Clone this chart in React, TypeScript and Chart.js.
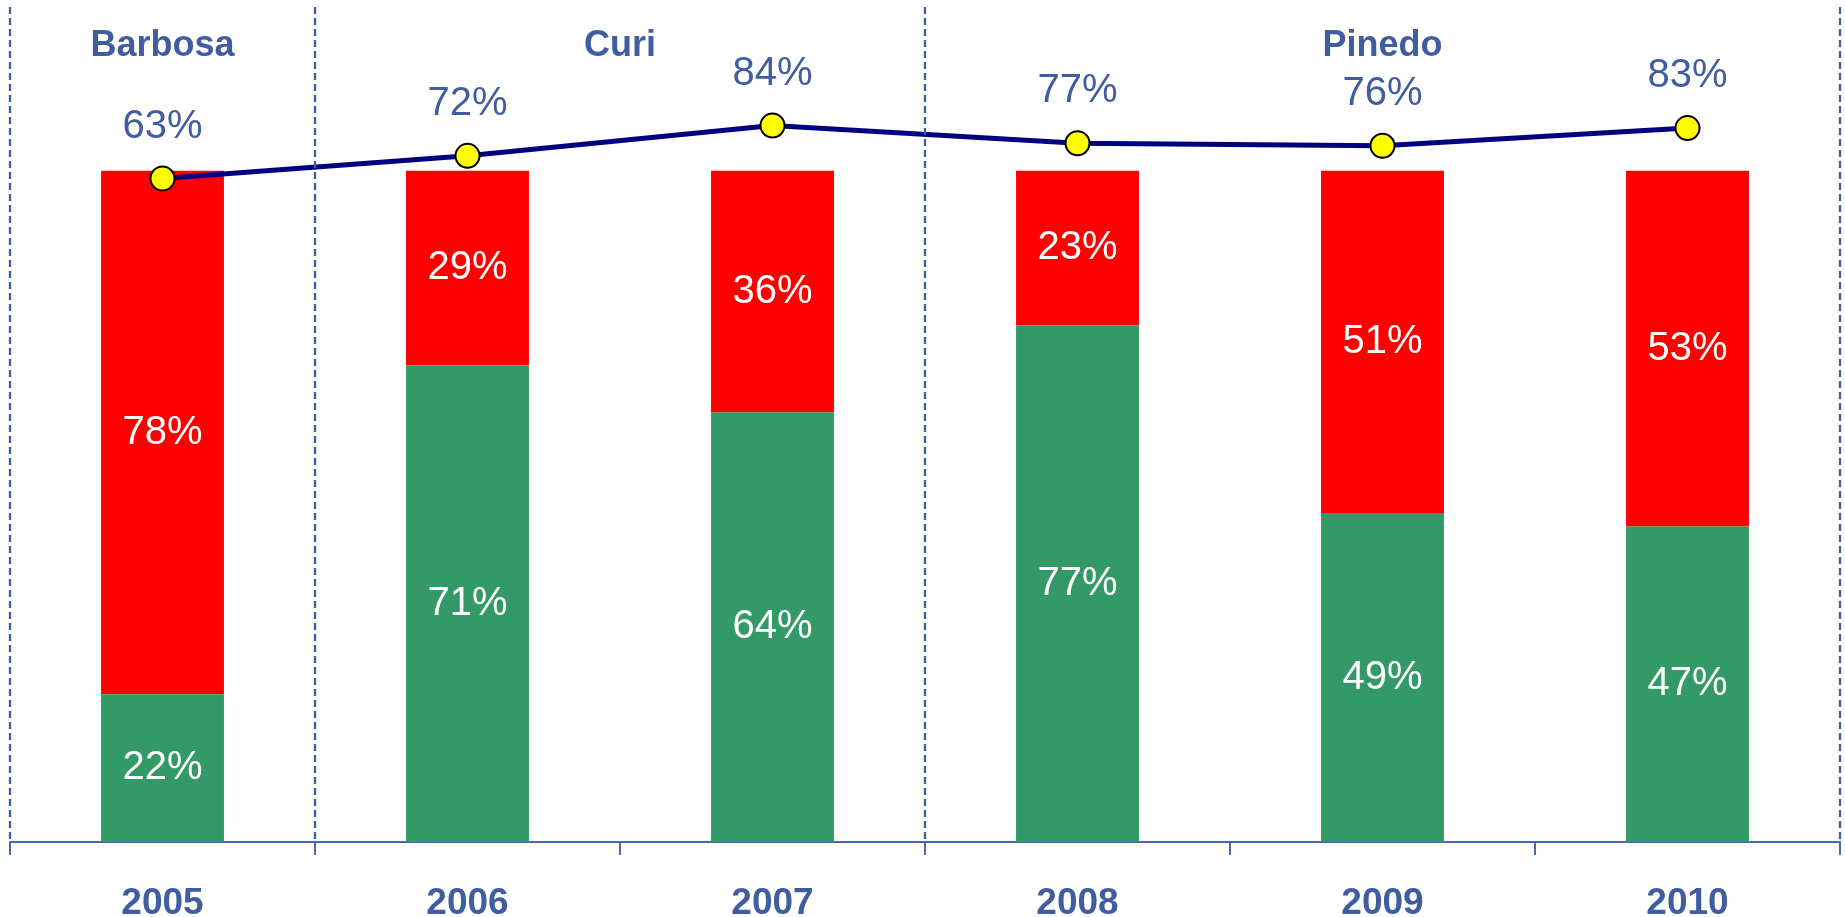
import React, { useEffect, useRef } from "react";
import { Chart, registerables } from "chart.js";

Chart.register(...registerables);

const years = ["2005", "2006", "2007", "2008", "2009", "2010"];
const greenValues = [22, 71, 64, 77, 49, 47];
const redValues = [78, 29, 36, 23, 51, 53];
const lineValues = [63, 72, 84, 77, 76, 83];
const groupLabels = ["Barbosa", "Curi", "Pinedo"];
const groupStarts = [0, 1, 3];
const groupEnds = [0, 2, 5];

const BLUE = "#405D9F";
const FONT = "'Liberation Sans', Arial, sans-serif";

const labelsPlugin = {
  id: "customLabels",
  afterDatasetsDraw(chart: any) {
    const ctx = chart.ctx;
    const area = chart.chartArea;
    const xs = chart.scales.x;
    ctx.save();
    // bar labels
    [0, 1].forEach((di) => {
      const meta = chart.getDatasetMeta(di);
      const vals = chart.data.datasets[di].data;
      meta.data.forEach((el: any, i: number) => {
        const props = el.getProps(["x", "y", "base"], true);
        const cy = (props.y + props.base) / 2;
        ctx.fillStyle = "#FFFFFF";
        ctx.font = `40px ${FONT}`;
        ctx.textAlign = "center";
        ctx.textBaseline = "middle";
        ctx.fillText(vals[i] + "%", props.x, cy);
      });
    });
    // line labels
    const lmeta = chart.getDatasetMeta(2);
    const lvals = chart.data.datasets[2].data;
    lmeta.data.forEach((el: any, i: number) => {
      ctx.fillStyle = BLUE;
      ctx.font = `40px ${FONT}`;
      ctx.textAlign = "center";
      ctx.textBaseline = "middle";
      ctx.fillText(lvals[i] + "%", el.x, el.y - 52);
    });
    // group separators & labels
    const half = (xs.getPixelForValue(1) - xs.getPixelForValue(0)) / 2;
    const bounds = new Set<number>();
    groupStarts.forEach((s, gi) => {
      const left = xs.getPixelForValue(s) - half;
      const right = xs.getPixelForValue(groupEnds[gi]) + half;
      bounds.add(Math.round(left));
      bounds.add(Math.round(right));
      ctx.fillStyle = BLUE;
      ctx.font = `bold 36px ${FONT}`;
      ctx.textAlign = "center";
      ctx.textBaseline = "middle";
      ctx.fillText(groupLabels[gi], (left + right) / 2, area.top + 39);
    });
    ctx.strokeStyle = BLUE;
    ctx.lineWidth = 2.3;
    ctx.setLineDash([7, 4]);
    bounds.forEach((bx) => {
      ctx.beginPath();
      ctx.moveTo(bx, area.top);
      ctx.lineTo(bx, area.bottom);
      ctx.stroke();
    });
    ctx.restore();
  },
};

export default function App() {
  const ref = useRef<HTMLCanvasElement>(null);
  useEffect(() => {
    document.body.style.margin = "0";
    const chart = new Chart(ref.current!, {
      type: "bar",
      data: {
        labels: years,
        datasets: [
          {
            type: "bar",
            label: "green",
            data: greenValues,
            backgroundColor: "#339966",
            stack: "s",
            order: 1,
            yAxisID: "y",
            categoryPercentage: 1,
            barPercentage: 0.403,
          },
          {
            type: "bar",
            label: "red",
            data: redValues,
            backgroundColor: "#FF0000",
            stack: "s",
            order: 2,
            yAxisID: "y",
            categoryPercentage: 1,
            barPercentage: 0.403,
          },
          {
            type: "line",
            label: "line",
            data: lineValues,
            borderColor: "#000080",
            borderWidth: 5,
            pointBackgroundColor: "#FFFF00",
            pointBorderColor: "#000000",
            pointBorderWidth: 2,
            pointRadius: 12,
            yAxisID: "y2",
            order: 0,
            tension: 0,
          } as any,
        ],
      },
      options: {
        animation: false,
        responsive: false,
        maintainAspectRatio: false,
        layout: { autoPadding: false, padding: { top: 7, left: 10, right: 5, bottom: 0 } },
        plugins: { legend: { display: false }, tooltip: { enabled: false } },
        scales: {
          x: {
            stacked: true,
            offset: true,
            afterFit: (scale: any) => {
              scale.height = 75;
            },
            grid: {
              display: true,
              offset: true,
              drawOnChartArea: false,
              drawTicks: true,
              tickLength: 13,
              color: "#4A68AC",
              lineWidth: 2,
            },
            border: { display: true, color: "#4A68AC", width: 2 },
            ticks: {
              color: BLUE,
              font: { family: FONT, size: 37, weight: "bold" },
              padding: 27,
              maxRotation: 0,
            },
          },
          y: {
            display: false,
            stacked: true,
            min: 0,
            max: 124.4,
          },
          y2: {
            display: false,
            min: -200,
            max: 131,
          },
        },
      } as any,
      plugins: [labelsPlugin],
    });
    return () => chart.destroy();
  }, []);
  return (
    <div style={{ position: "absolute", left: 0, top: 0, width: 1845, height: 917 }}>
      <canvas ref={ref} width={1845} height={917} style={{ width: 1845, height: 917 }} />
    </div>
  );
}
